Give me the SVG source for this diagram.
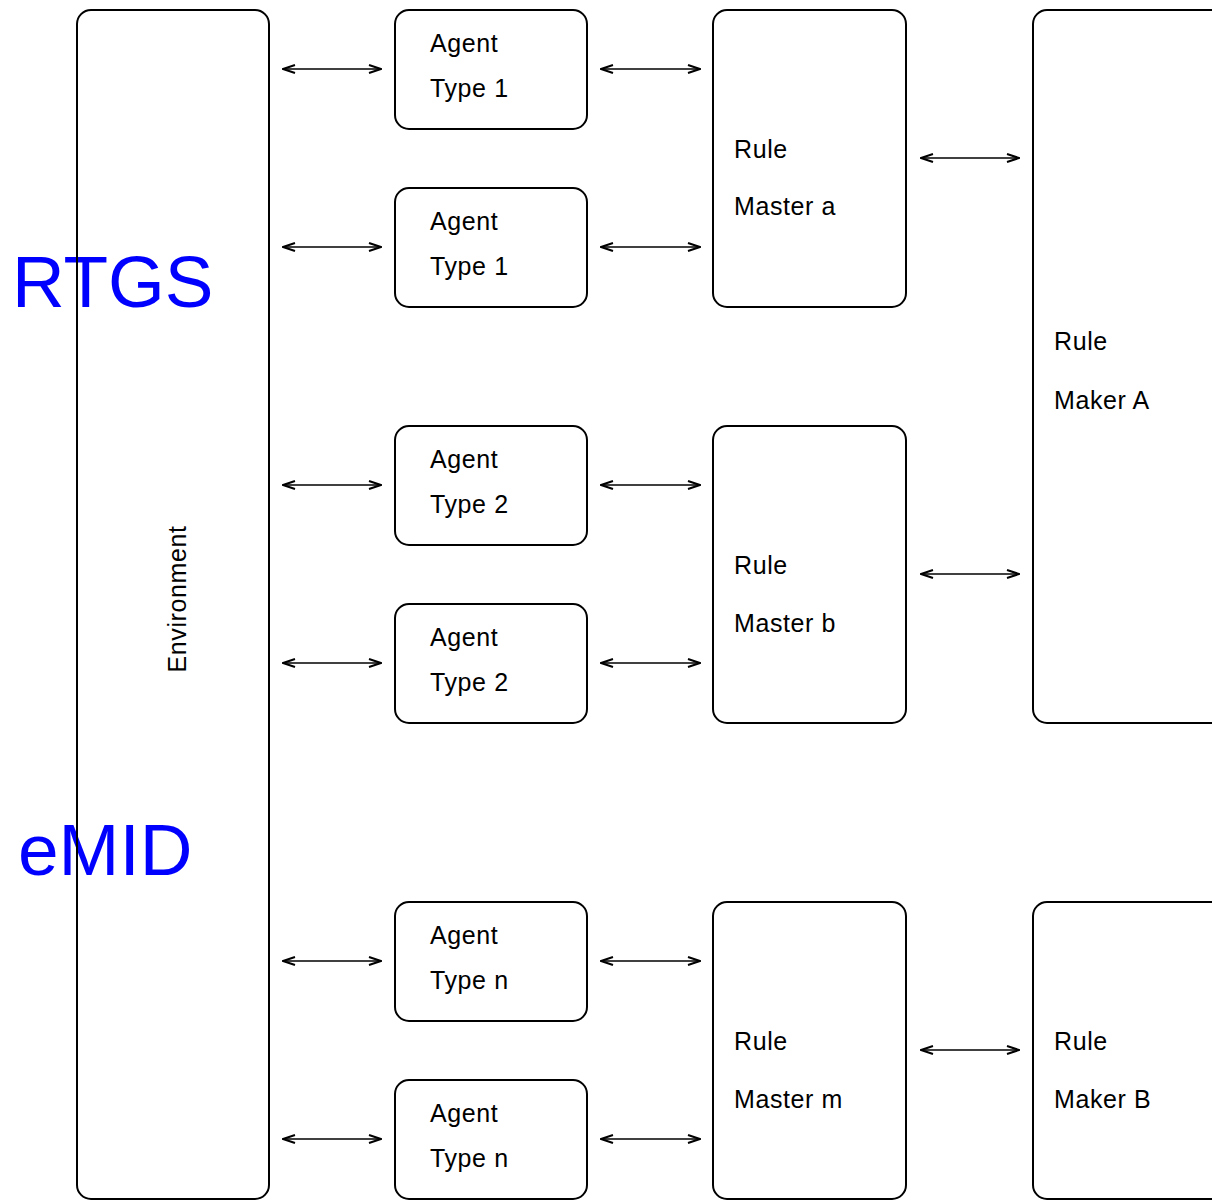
<svg xmlns="http://www.w3.org/2000/svg" width="1212" height="1202" viewBox="0 0 1212 1202">
<defs>
<style>
.box{fill:none;stroke:#000;stroke-width:2}
.t{font-family:"Liberation Sans",Arial,sans-serif;font-size:25px;fill:#000;letter-spacing:0.6px}
.big{font-family:"Liberation Sans",Arial,sans-serif;font-size:73px;fill:#0000ff}
.c{stroke:#000;stroke-width:1.5;fill:none;marker-start:url(#ah);marker-end:url(#ah)}
</style>
<marker id="ah" viewBox="0 0 14 10" refX="13" refY="5" markerWidth="14" markerHeight="10" markerUnits="userSpaceOnUse" orient="auto-start-reverse">
<path d="M1,1 L13,5 L1,9" fill="none" stroke="#000" stroke-width="2"/>
</marker>
</defs>
<rect width="1212" height="1202" fill="#fff"/>
<text class="big" x="12" y="307">RTGS</text>
<text class="big" x="18" y="875">eMID</text>
<g id="environment">
<rect class="box" x="77" y="10" width="192" height="1189" rx="14"/>
<text class="t" transform="translate(186,599) rotate(-90)" text-anchor="middle">Environment</text>
</g>
<g id="agent1a"><rect class="box" x="395" y="10" width="192" height="119" rx="14"/><text class="t" x="430" y="52">Agent</text><text class="t" x="430" y="97">Type 1</text></g>
<g id="agent1b"><rect class="box" x="395" y="188" width="192" height="119" rx="14"/><text class="t" x="430" y="230">Agent</text><text class="t" x="430" y="275">Type 1</text></g>
<g id="agent2a"><rect class="box" x="395" y="426" width="192" height="119" rx="14"/><text class="t" x="430" y="468">Agent</text><text class="t" x="430" y="513">Type 2</text></g>
<g id="agent2b"><rect class="box" x="395" y="604" width="192" height="119" rx="14"/><text class="t" x="430" y="646">Agent</text><text class="t" x="430" y="691">Type 2</text></g>
<g id="agentna"><rect class="box" x="395" y="902" width="192" height="119" rx="14"/><text class="t" x="430" y="944">Agent</text><text class="t" x="430" y="989">Type n</text></g>
<g id="agentnb"><rect class="box" x="395" y="1080" width="192" height="119" rx="14"/><text class="t" x="430" y="1122">Agent</text><text class="t" x="430" y="1167">Type n</text></g>
<g id="mastera"><rect class="box" x="713" y="10" width="193" height="297" rx="14"/><text class="t" x="734" y="158">Rule</text><text class="t" x="734" y="215">Master a</text></g>
<g id="masterb"><rect class="box" x="713" y="426" width="193" height="297" rx="14"/><text class="t" x="734" y="574">Rule</text><text class="t" x="734" y="632">Master b</text></g>
<g id="masterm"><rect class="box" x="713" y="902" width="193" height="297" rx="14"/><text class="t" x="734" y="1050">Rule</text><text class="t" x="734" y="1108">Master m</text></g>
<g id="makerA"><rect class="box" x="1033" y="10" width="200" height="713" rx="14"/><text class="t" x="1054" y="350">Rule</text><text class="t" x="1054" y="409">Maker A</text></g>
<g id="makerB"><rect class="box" x="1033" y="902" width="200" height="297" rx="14"/><text class="t" x="1054" y="1050">Rule</text><text class="t" x="1054" y="1108">Maker B</text></g>
<g id="connectors">
<line class="c" x1="283" y1="69" x2="381" y2="69"/>
<line class="c" x1="283" y1="247" x2="381" y2="247"/>
<line class="c" x1="283" y1="485" x2="381" y2="485"/>
<line class="c" x1="283" y1="663" x2="381" y2="663"/>
<line class="c" x1="283" y1="961" x2="381" y2="961"/>
<line class="c" x1="283" y1="1139" x2="381" y2="1139"/>
<line class="c" x1="601" y1="69" x2="700" y2="69"/>
<line class="c" x1="601" y1="247" x2="700" y2="247"/>
<line class="c" x1="601" y1="485" x2="700" y2="485"/>
<line class="c" x1="601" y1="663" x2="700" y2="663"/>
<line class="c" x1="601" y1="961" x2="700" y2="961"/>
<line class="c" x1="601" y1="1139" x2="700" y2="1139"/>
<line class="c" x1="921" y1="158" x2="1019" y2="158"/>
<line class="c" x1="921" y1="574" x2="1019" y2="574"/>
<line class="c" x1="921" y1="1050" x2="1019" y2="1050"/>
</g>
</svg>
